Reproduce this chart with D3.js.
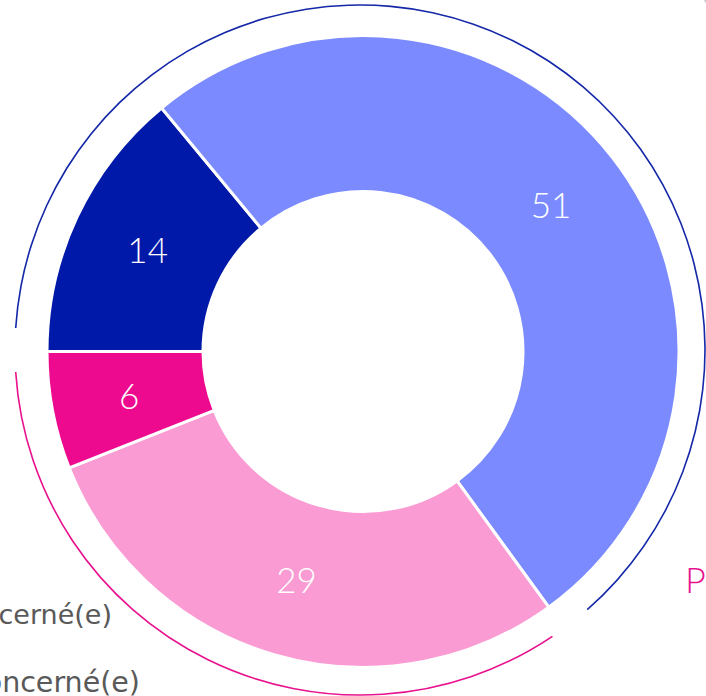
<!DOCTYPE html>
<html>
<head>
<meta charset="utf-8">
<script src="https://cdn.jsdelivr.net/npm/d3@7"></script>
<style>
  html, body { margin: 0; padding: 0; background: #fff; overflow: hidden; }
  svg { display: block; }
  text { font-family: "Lato", "Noto Sans", sans-serif; }
</style>
</head>
<body>
<svg id="chart" width="706" height="696"></svg>
<script>
// ---- data ----
const categories = ["Très concerné(e)", "Plutôt concerné(e)", "Plutôt pas concerné(e)", "Pas du tout concerné(e)"];
const values = [14, 51, 29, 6];
const colors = ["#0019a8", "#7b8bff", "#fa9bd4", "#ee0a8f"];
const groups = ["Concerné(e)", "Pas concerné(e)"];
const groupMembers = [[0, 1], [2, 3]];
const groupColors = ["#1428a8", "#e8128f"];
const legendLines = ["Concerné(e)", "Non concerné(e)"];

// ---- layout ----
const svg = d3.select("#chart");
const cx = 363, cy = 351.5, rInner = 160, rOuter = 316;
const ringCx = 360, ringCy = 350, ringR = 345;

const pie = d3.pie().sort(null).startAngle(-Math.PI / 2).endAngle(3 * Math.PI / 2);
const arcs = pie(values);
const arc = d3.arc().innerRadius(rInner).outerRadius(rOuter);

const g = svg.append("g").attr("transform", `translate(${cx},${cy})`);
g.selectAll("path.slice").data(arcs).enter().append("path")
  .attr("class", "slice")
  .attr("d", arc)
  .attr("fill", (d, i) => colors[i])
  .attr("stroke", "#fff")
  .attr("stroke-width", 3);

g.selectAll("text.lbl").data(arcs).enter().append("text")
  .attr("class", "lbl")
  .attr("transform", d => `translate(${arc.centroid(d)})`)
  .attr("text-anchor", "middle")
  .attr("dy", "0.36em")
  .attr("fill", "#fff")
  .style("font-size", "35px")
  .style("font-weight", 300)
  .text(d => d.data);

// outer group rings
const groupValues = groupMembers.map(m => d3.sum(m, i => values[i]));
const ringPie = d3.pie().sort(null).startAngle(-Math.PI / 2).endAngle(3 * Math.PI / 2).padAngle(0.09);
const ringArc = d3.arc().innerRadius(ringR - 0.8).outerRadius(ringR + 0.8);
const rg = svg.append("g").attr("transform", `translate(${ringCx},${ringCy})`);
rg.selectAll("path").data(ringPie(groupValues)).enter().append("path")
  .attr("d", ringArc)
  .attr("fill", (d, i) => groupColors[i]);

// partially visible texts
svg.append("text")
  .attr("x", 685).attr("y", 593)
  .attr("fill", "#e8128f")
  .style("font-size", "36px")
  .style("font-weight", 300)
  .text(groups[1].charAt(0));

svg.selectAll("text.leg").data(legendLines).enter().append("text")
  .attr("class", "leg")
  .attr("x", (d, i) => i === 0 ? 112 : 140)
  .attr("y", (d, i) => i === 0 ? 624 : 692)
  .attr("text-anchor", "end")
  .attr("fill", "#595959")
  .style("font-family", "'DejaVu Sans', sans-serif")
  .style("font-size", (d, i) => i === 0 ? "27px" : "28.5px")
  .text(d => d);

const topRight = ["Très concerné(e)", "Plutôt concerné(e)", "Plutôt pas concerné(e)"];
svg.selectAll("text.tr").data(topRight).enter().append("text")
  .attr("class", "tr")
  .attr("x", 704)
  .attr("y", (d, i) => [20, 72, 124][i])
  .attr("fill", "#c8cde0")
  .style("font-size", "26px")
  .text(d => d);
</script>
</body>
</html>
